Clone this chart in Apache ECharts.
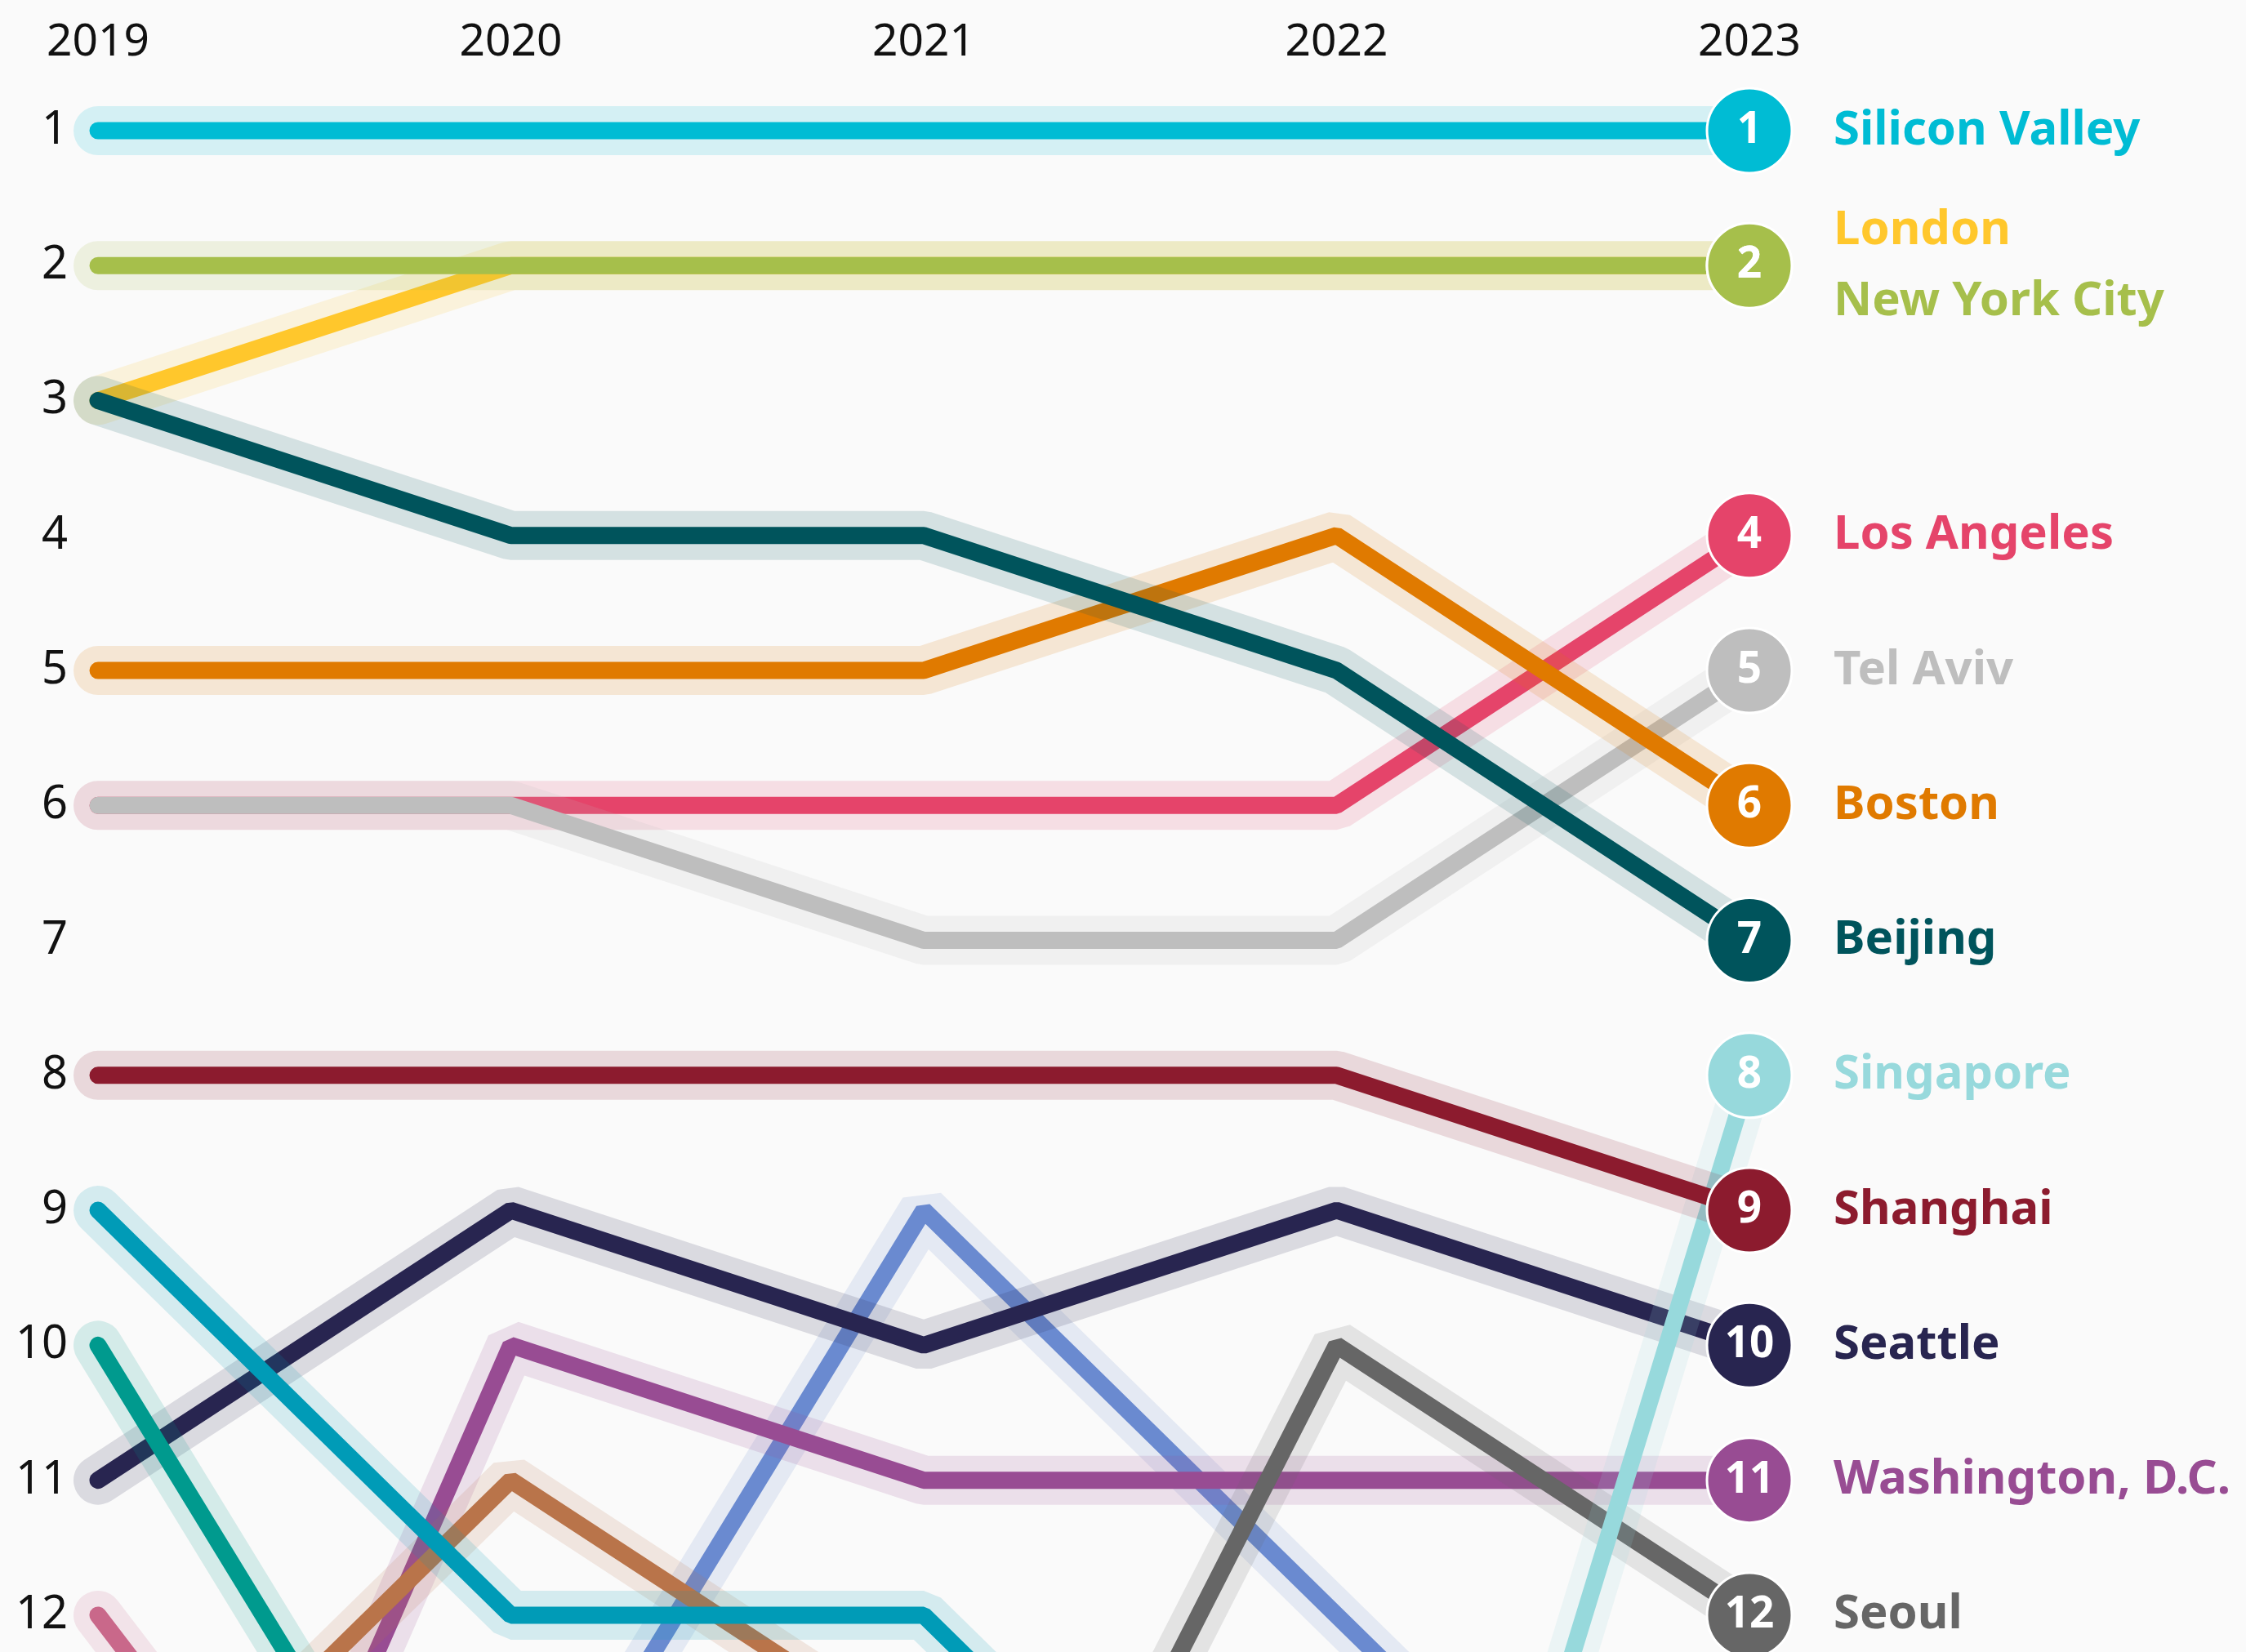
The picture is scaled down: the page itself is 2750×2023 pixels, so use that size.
<!DOCTYPE html>
<html>
<head>
<meta charset="utf-8">
<title>Startup ecosystem rankings 2019–2023</title>
<script src="https://cdn.jsdelivr.net/npm/echarts@6/dist/echarts.min.js"></script>
<style>
  html, body { margin: 0; padding: 0; background: #fafafa; width: 2750px; height: 2023px; overflow: hidden; }
  /* the plot runs on below the visible page: ranks past 12 fall off the bottom edge */
  #chart { width: 2750px; height: 3300px; }
</style>
</head>
<body>
<div id="chart"></div>
<script>
// Years along the top axis
const years = ['2019', '2020', '2021', '2022', '2023'];

// Yearly rank of each ecosystem (null = outside the tracked range)
const siliconValley = [1, 1, 1, 1, 1];
const london        = [3, 2, 2, 2, 2];
const newYorkCity   = [2, 2, 2, 2, 2];
const losAngeles    = [6, 6, 6, 6, 4];
const telAviv       = [6, 6, 7, 7, 5];
const boston        = [5, 5, 5, 4, 6];
const beijing       = [3, 4, 4, 5, 7];
const singapore     = [null, null, null, 18, 8];
const shanghai      = [8, 8, 8, 8, 9];
const seattle       = [11, 9, 10, 9, 10];
const washingtonDC  = [17, 10, 11, 11, 11];
const seoul         = [null, null, 16, 10, 12];

// Ecosystems that fall below the top 12 by 2023 (not labelled)
const tealBlue   = [9, 12, 12, 15, null];
const tealGreen  = [10, 15, null, null, null];
const rose       = [12, 16, null, null, null];
const copper     = [14, 11, 13, null, null];
const cornflower = [null, 14, 9, 12, 15];

// Ranks shown on the left axis
const rankTicks = [1, 2, 3, 4, 5, 6, 7, 8, 9, 10, 11, 12];

// Drawing order: first entry sits at the bottom
const lines = [
  { name: 'cornflower', data: cornflower, color: '#6a8ad0' },
  { name: 'Washington, D.C.', data: washingtonDC, color: '#984c93', label: true },
  { name: 'rose', data: rose, color: '#c9688a' },
  { name: 'copper', data: copper, color: '#b9744a' },
  { name: 'Seattle', data: seattle, color: '#282550', label: true },
  { name: 'tealGreen', data: tealGreen, color: '#009a8e' },
  { name: 'tealBlue', data: tealBlue, color: '#009bb7' },
  { name: 'Seoul', data: seoul, color: '#666666', label: true },
  { name: 'Singapore', data: singapore, color: '#97d9dc', label: true },
  { name: 'Shanghai', data: shanghai, color: '#8c1b2e', label: true },
  { name: 'Los Angeles', data: losAngeles, color: '#e5446a', label: true },
  { name: 'Tel Aviv', data: telAviv, color: '#bebebe', label: true },
  { name: 'Boston', data: boston, color: '#e07a00', label: true },
  { name: 'London', data: london, color: '#ffc72c', label: true, dy: -43 },
  { name: 'Beijing', data: beijing, color: '#00545c', label: true },
  { name: 'New York City', data: newYorkCity, color: '#a6bf4b', label: true, dy: 44 },
  { name: 'Silicon Valley', data: siliconValley, color: '#00bcd4', label: true }
];

const FONT = 'Noto Sans';
const series = [];

lines.forEach(function (c) {
  // soft halo under each line
  series.push({
    type: 'line',
    name: c.name + ' halo',
    data: c.data,
    symbol: 'none',
    silent: true,
    clip: false,
    lineStyle: { color: c.color, width: 60, opacity: 0.15, cap: 'round' }
  });
  // main line, with the city name at its 2023 end
  series.push({
    type: 'line',
    name: c.name,
    data: c.data,
    symbol: 'none',
    clip: false,
    lineStyle: { color: c.color, width: 21, cap: 'round' },
    endLabel: c.label ? {
      show: true,
      formatter: c.name,
      color: c.color,
      fontFamily: FONT,
      fontSize: 58,
      fontWeight: 'bold',
      distance: 103,
      offset: [0, c.dy || 0]
    } : { show: false }
  });
});

// 2023 rank badges
const badges = lines.filter(function (c) { return c.label; }).map(function (c) {
  const r = c.data[c.data.length - 1];
  return { value: [years[years.length - 1], r], itemStyle: { color: c.color } };
});

series.push({
  type: 'scatter',
  data: badges,
  symbol: 'circle',
  symbolSize: 104,
  z: 10,
  itemStyle: { borderColor: '#ffffff', borderWidth: 3, opacity: 1 },
  label: {
    show: true,
    position: 'inside',
    formatter: function (p) { return p.value[1]; },
    color: '#ffffff',
    fontFamily: FONT,
    fontSize: 53,
    fontWeight: 'bold'
  }
});

const chart = echarts.init(document.getElementById('chart'), null, { renderer: 'canvas' });
chart.setOption({
  animation: false,
  backgroundColor: '#fafafa',
  grid: { left: 120, right: 608, top: 160, bottom: 0 },
  xAxis: {
    type: 'category',
    data: years,
    position: 'top',
    boundaryGap: false,
    axisLine: { show: false },
    axisTick: { show: false },
    splitLine: { show: false },
    axisLabel: { color: '#111111', fontFamily: FONT, fontSize: 55, margin: 80 }
  },
  yAxis: {
    type: 'value',
    inverse: true,
    min: 1,
    max: 20,
    interval: 1,
    axisLine: { show: false },
    axisTick: { show: false },
    splitLine: { show: false },
    axisLabel: {
      color: '#111111',
      fontFamily: FONT,
      fontSize: 56,
      margin: 37,
      formatter: function (v) { return rankTicks.indexOf(v) >= 0 ? String(v) : ''; }
    }
  },
  series: series
});
</script>
</body>
</html>
